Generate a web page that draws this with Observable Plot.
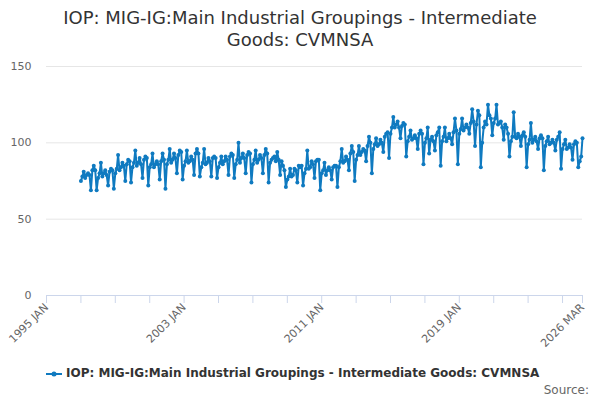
<!DOCTYPE html>
<html>
<head>
<meta charset="utf-8">
<script src="https://cdn.jsdelivr.net/npm/d3@7"></script>
<script src="https://cdn.jsdelivr.net/npm/@observablehq/plot@0.6"></script>
<style>
  body { margin: 0; background: #fff; font-family: "DejaVu Sans", sans-serif; }
  #wrap { position: relative; width: 600px; height: 400px; overflow: hidden; }
  #title { position: absolute; left: 0; top: 7px; width: 600px; text-align: center; font-size: 18px; line-height: 22px; color: #333; }
  #chart { position: absolute; left: 0; top: 56px; }
  #legend { position: absolute; left: 46px; top: 366px; font-size: 12px; font-weight: bold; color: #333; white-space: nowrap; }
  #legend svg { vertical-align: middle; margin-right: 4px; }
  #source { position: absolute; right: 11px; top: 383px; font-size: 12px; color: #666; }
</style>
</head>
<body>
<div id="wrap">
  <div id="title">IOP: MIG-IG:Main Industrial Groupings - Intermediate<br>Goods: CVMNSA</div>
  <div id="chart"></div>
  <div id="legend"><svg width="16" height="10"><line x1="0" y1="5" x2="16" y2="5" stroke="#0f7ac0" stroke-width="2"/><circle cx="8" cy="5" r="2.5" fill="#0f7ac0"/></svg>IOP: MIG-IG:Main Industrial Groupings - Intermediate Goods: CVMNSA</div>
  <div id="source">Source:</div>
</div>
<script>
// monthly index values, one row per year, Jan 1997 .. Mar 2026
const firstYear = 1997;
const values = [
  [75, 78, 81, 77, 79, 80, 79, 69, 82, 85, 82, 69],
  [77, 80, 87, 78, 80, 82, 79, 72, 81, 83, 82, 70],
  [80, 83, 92, 82, 84, 87, 85, 75, 86, 89, 88, 74],
  [84, 87, 95, 85, 87, 90, 86, 77, 89, 91, 90, 72],
  [84, 86, 93, 84, 86, 88, 86, 76, 88, 93, 89, 70],
  [86, 89, 96, 87, 89, 93, 90, 80, 92, 95, 94, 76],
  [85, 88, 95, 87, 88, 91, 89, 79, 93, 96, 93, 78],
  [84, 87, 96, 86, 87, 90, 88, 78, 90, 91, 90, 77],
  [84, 87, 91, 86, 88, 91, 89, 79, 91, 93, 92, 77],
  [86, 89, 100, 87, 90, 93, 90, 80, 92, 94, 93, 74],
  [86, 89, 95, 87, 89, 92, 90, 80, 92, 96, 93, 74],
  [87, 89, 90, 91, 88, 94, 89, 79, 88, 85, 82, 71],
  [76, 78, 83, 78, 79, 83, 82, 74, 85, 84, 85, 72],
  [80, 83, 95, 83, 84, 88, 86, 77, 88, 89, 89, 69],
  [80, 82, 87, 79, 82, 84, 82, 76, 84, 85, 85, 71],
  [84, 88, 96, 87, 88, 91, 89, 82, 93, 98, 94, 75],
  [89, 92, 98, 92, 94, 96, 95, 88, 98, 104, 100, 80],
  [96, 99, 103, 98, 99, 102, 100, 94, 104, 106, 107, 90],
  [106, 110, 117, 110, 112, 114, 110, 103, 111, 113, 112, 91],
  [101, 104, 108, 102, 103, 105, 103, 96, 106, 108, 106, 86],
  [100, 103, 110, 93, 102, 104, 101, 95, 105, 107, 110, 85],
  [101, 104, 110, 101, 103, 106, 103, 99, 107, 116, 108, 86],
  [106, 109, 116, 108, 110, 112, 110, 106, 113, 122, 114, 98],
  [112, 121, 118, 84, 100, 110, 114, 112, 125, 118, 116, 105],
  [113, 116, 125, 112, 113, 114, 110, 102, 112, 110, 106, 91],
  [101, 104, 120, 104, 103, 106, 104, 98, 105, 107, 104, 84],
  [99, 102, 113, 100, 102, 104, 101, 96, 103, 105, 103, 82],
  [98, 101, 104, 99, 100, 102, 100, 95, 102, 104, 107, 83],
  [96, 99, 102, 96, 97, 99, 97, 89, 99, 101, 100, 84],
  [88, 91, 103]
];

const yTicks = [0, 50, 100, 150];
const tickYears = [1995, 1997, 1999, 2001, 2003, 2005, 2007, 2009, 2011, 2013, 2015, 2017, 2019, 2021, 2023, 2025];
const labelDates = ["1995-01", "2003-01", "2011-01", "2019-01", "2026-03"];
const labelText = ["1995 JAN", "2003 JAN", "2011 JAN", "2019 JAN", "2026 MAR"];

const series = values.flatMap((row, yi) =>
  row.map((v, m) => ({ date: new Date(Date.UTC(firstYear + yi, m, 1)), value: v }))
);
const toDate = (s) => new Date(s + "-01T00:00:00Z");
const labelDateObjs = labelDates.map(toDate);
const labelMap = new Map(labelDateObjs.map((d, i) => [+d, labelText[i]]));
const tickDates = tickYears.map((y) => new Date(Date.UTC(y, 0, 1))).concat([toDate("2026-03")]);

const color = "#0f7ac0";

const chart = Plot.plot({
  width: 600,
  height: 300,
  marginTop: 10,
  marginBottom: 61,
  marginLeft: 46,
  marginRight: 18,
  style: { fontFamily: "DejaVu Sans, sans-serif", fontSize: "11px", background: "transparent", overflow: "visible" },
  x: { type: "utc", domain: [toDate("1995-01"), toDate("2026-03")] },
  y: { domain: [0, 150] },
  marks: [
    Plot.gridY(yTicks.slice(1), { stroke: "#e6e6e6", strokeOpacity: 1 }),
    Plot.axisY(yTicks, { tickSize: 0, tickPadding: 15, label: null, fill: "#666" }),
    Plot.ruleY([0], { stroke: "#ccd6eb" }),
    Plot.axisX(tickDates, { tickSize: 8, stroke: "#ccd6eb", tickFormat: () => "", label: null }),
    Plot.axisX(labelDateObjs, {
      tickSize: 0,
      tickPadding: 10,
      tickRotate: -45,
      tickFormat: (d) => labelMap.get(+d),
      fill: "#666",
      fontSize: 11,
      label: null
    }),
    Plot.line(series, { x: "date", y: "value", stroke: color, strokeWidth: 2 }),
    Plot.dot(series, { x: "date", y: "value", r: 2, fill: color })
  ]
});

document.getElementById("chart").appendChild(chart);
</script>
</body>
</html>
